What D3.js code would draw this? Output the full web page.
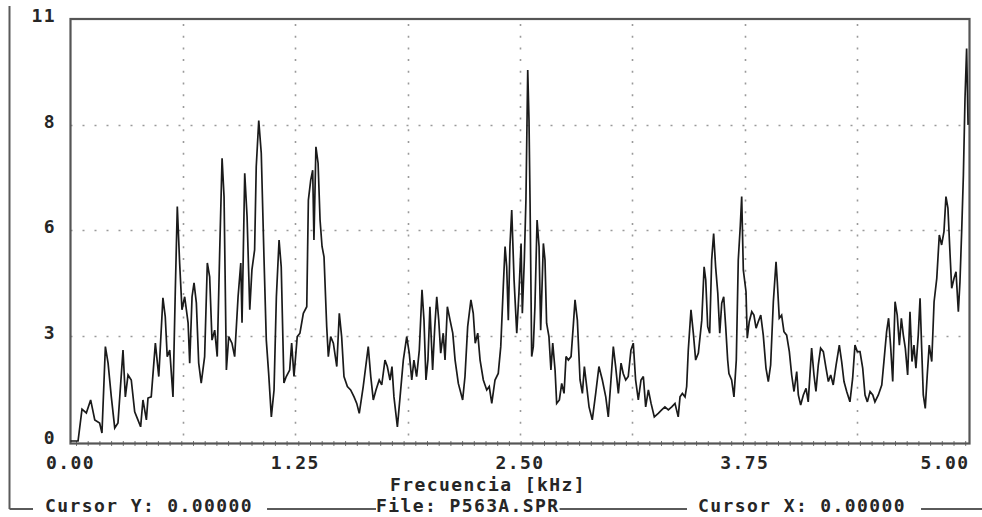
<!DOCTYPE html>
<html>
<head>
<meta charset="utf-8">
<script src="https://cdn.jsdelivr.net/npm/d3@7"></script>
<style>
  html, body { margin: 0; padding: 0; background: #fff; }
  svg { display: block; }
  text { font-family: "DejaVu Sans Mono", "Liberation Mono", monospace; font-weight: bold; fill: #262626; }
</style>
</head>
<body>
<svg id="chart" width="982" height="517"></svg>
<script>
// ---- data ----
const freq = [0, 0.042, 0.064, 0.088, 0.112, 0.135, 0.162, 0.175, 0.194, 0.209,
 0.227, 0.246, 0.264, 0.292, 0.305, 0.320, 0.338, 0.357, 0.375, 0.390,
 0.403, 0.422, 0.431, 0.449, 0.472, 0.491, 0.514, 0.527, 0.538, 0.552,
 0.570, 0.583, 0.594, 0.607, 0.620, 0.635, 0.654, 0.663, 0.676, 0.687,
 0.700, 0.713, 0.727, 0.746, 0.761, 0.774, 0.787, 0.802, 0.816, 0.830,
 0.843, 0.854, 0.867, 0.880, 0.898, 0.913, 0.932, 0.947, 0.954, 0.969,
 0.982, 0.997, 1.009, 1.024, 1.033, 1.047, 1.061, 1.076, 1.089, 1.102,
 1.117, 1.132, 1.145, 1.160, 1.172, 1.187, 1.200, 1.219, 1.230, 1.243,
 1.261, 1.276, 1.295, 1.314, 1.323, 1.336, 1.347, 1.354, 1.365, 1.377,
 1.388, 1.399, 1.410, 1.425, 1.434, 1.447, 1.462, 1.481, 1.495, 1.508,
 1.521, 1.540, 1.558, 1.577, 1.592, 1.606, 1.628, 1.656, 1.670, 1.684,
 1.699, 1.717, 1.731, 1.749, 1.762, 1.777, 1.788, 1.799, 1.818, 1.833,
 1.851, 1.870, 1.884, 1.898, 1.910, 1.925, 1.940, 1.955, 1.966, 1.977,
 1.988, 1.999, 2.014, 2.026, 2.037, 2.048, 2.059, 2.073, 2.083, 2.096,
 2.111, 2.126, 2.139, 2.157, 2.181, 2.194, 2.209, 2.227, 2.240, 2.251,
 2.265, 2.278, 2.296, 2.315, 2.329, 2.343, 2.361, 2.379, 2.393, 2.407,
 2.417, 2.426, 2.435, 2.444, 2.454, 2.467, 2.482, 2.494, 2.506, 2.513,
 2.524, 2.533, 2.543, 2.550, 2.556, 2.565, 2.574, 2.583, 2.595, 2.606,
 2.615, 2.630, 2.639, 2.648, 2.661, 2.672, 2.682, 2.695, 2.704, 2.719,
 2.732, 2.745, 2.756, 2.769, 2.784, 2.796, 2.806, 2.819, 2.834, 2.847,
 2.858, 2.871, 2.884, 2.902, 2.921, 2.939, 2.958, 2.977, 2.991, 3.006,
 3.019, 3.032, 3.047, 3.062, 3.074, 3.088, 3.102, 3.117, 3.130, 3.143,
 3.158, 3.173, 3.186, 3.199, 3.214, 3.229, 3.247, 3.269, 3.288, 3.306,
 3.325, 3.344, 3.362, 3.380, 3.390, 3.403, 3.418, 3.427, 3.436, 3.451,
 3.464, 3.477, 3.492, 3.511, 3.524, 3.533, 3.544, 3.555, 3.566, 3.577,
 3.588, 3.600, 3.611, 3.622, 3.633, 3.644, 3.655, 3.662, 3.677, 3.690,
 3.703, 3.714, 3.725, 3.733, 3.742, 3.757, 3.764, 3.775, 3.789, 3.801,
 3.813, 3.825, 3.839, 3.853, 3.868, 3.881, 3.894, 3.909, 3.924, 3.931,
 3.942, 3.955, 3.968, 3.983, 3.998, 4.011, 4.024, 4.039, 4.048, 4.061,
 4.076, 4.091, 4.103, 4.122, 4.135, 4.146, 4.159, 4.172, 4.187, 4.202,
 4.215, 4.228, 4.242, 4.258, 4.276, 4.289, 4.302, 4.317, 4.335, 4.350,
 4.363, 4.376, 4.391, 4.406, 4.419, 4.432, 4.447, 4.462, 4.474, 4.493,
 4.512, 4.524, 4.539, 4.550, 4.562, 4.573, 4.586, 4.598, 4.610, 4.621,
 4.632, 4.643, 4.656, 4.669, 4.680, 4.691, 4.702, 4.715, 4.725, 4.734,
 4.743, 4.754, 4.765, 4.776, 4.790, 4.803, 4.818, 4.832, 4.845, 4.858,
 4.869, 4.880, 4.892, 4.901, 4.914, 4.925, 4.938, 4.947, 4.957, 4.966,
 4.975, 4.984, 4.992];

const amplitude = [0, 0, 0.83, 0.73, 1.07, 0.55, 0.47, 0.21, 2.46, 2.03,
 1.15, 0.34, 0.47, 2.37, 1.15, 1.72, 1.59, 0.76, 0.55, 0.37,
 1.07, 0.55, 1.12, 1.15, 2.55, 1.68, 3.73, 3.24, 2.20, 2.37,
 1.15, 3.94, 6.11, 4.64, 3.42, 3.76, 3.08, 2.03, 3.76, 4.12,
 3.60, 2.03, 1.51, 2.20, 4.64, 4.28, 2.63, 2.89, 2.20, 4.98,
 7.37, 6.37, 1.85, 2.72, 2.55, 2.20, 3.76, 4.64, 3.08, 6.98,
 5.85, 3.42, 4.46, 4.98, 7.15, 8.35, 7.50, 4.80, 2.63, 1.77,
 0.63, 1.33, 3.76, 5.24, 4.54, 1.51, 1.68, 1.85, 2.55, 1.68,
 2.72, 2.81, 3.33, 3.50, 6.28, 6.80, 7.06, 5.24, 7.67, 7.24,
 5.76, 5.07, 4.80, 2.98, 2.20, 2.72, 2.55, 1.94, 3.33, 2.72,
 1.68, 1.42, 1.33, 1.15, 0.98, 0.72, 1.42, 2.46, 1.68, 1.07,
 1.33, 1.59, 1.46, 2.11, 1.94, 1.59, 1.94, 1.15, 0.37, 1.15,
 2.11, 2.72, 2.29, 1.59, 2.11, 1.68, 2.37, 3.94, 3.15, 1.59,
 2.11, 3.50, 1.85, 2.98, 3.76, 3.15, 2.29, 2.81, 2.11, 3.50,
 3.15, 2.81, 2.11, 1.50, 1.07, 1.68, 2.98, 3.68, 3.33, 2.55,
 2.81, 2.11, 1.59, 1.33, 1.42, 0.98, 1.59, 1.76, 2.46, 4.02,
 5.07, 4.54, 3.15, 5.07, 6.02, 4.20, 2.81, 3.85, 5.15, 3.33,
 4.72, 6.28, 9.67, 8.37, 6.20, 2.20, 2.46, 3.50, 5.76, 5.07,
 2.89, 5.15, 4.72, 3.07, 2.72, 1.85, 2.55, 1.85, 0.98, 1.07,
 1.50, 1.24, 2.20, 2.11, 2.20, 2.98, 3.68, 3.15, 1.59, 1.24,
 1.94, 1.42, 0.89, 0.55, 1.24, 1.94, 1.59, 1.15, 0.63, 1.59,
 2.46, 1.94, 1.24, 2.03, 1.76, 1.59, 1.68, 2.37, 2.55, 1.59,
 1.07, 1.59, 1.68, 0.89, 1.33, 0.98, 0.63, 0.72, 0.81, 0.89,
 0.81, 0.89, 0.98, 0.63, 1.15, 1.24, 1.15, 1.42, 2.37, 3.42,
 2.81, 2.11, 2.29, 3.15, 4.54, 4.20, 2.98, 2.81, 4.72, 5.41,
 4.54, 3.85, 2.81, 3.59, 3.76, 2.98, 2.11, 1.76, 1.59, 1.15,
 2.11, 4.72, 5.59, 6.37, 4.46, 3.89, 2.68, 3.11, 3.37, 3.28,
 2.94, 3.11, 3.28, 2.76, 1.90, 1.55, 1.98, 3.63, 4.67, 4.15,
 3.20, 3.28, 2.85, 2.76, 2.33, 1.72, 1.29, 1.81, 1.20, 0.94,
 1.20, 1.37, 1.02, 2.42, 1.72, 1.29, 1.98, 2.42, 2.33, 1.90,
 1.55, 1.72, 1.46, 1.98, 2.50, 2.07, 1.55, 1.29, 1.02, 1.63,
 2.50, 2.33, 2.33, 1.90, 1.20, 1.02, 1.29, 1.20, 1.02, 1.20,
 1.46, 2.07, 2.85, 3.20, 2.42, 1.55, 3.63, 3.28, 2.50, 3.20,
 2.76, 2.42, 1.72, 3.37, 2.07, 2.50, 1.90, 2.76, 3.72, 2.42,
 1.20, 0.85, 1.72, 2.50, 2.07, 3.63, 4.24, 5.37, 5.11, 5.46,
 6.37, 6.07, 4.85, 3.98, 4.24, 4.41, 3.37, 4.15, 5.54, 6.93,
 8.93, 10.23, 8.24];

const yTickValues = [0, 2.75, 5.5, 8.25, 11];
const yTickLabels = ["0", "3", "6", "8", "11"];
const xTickValues = [0, 1.25, 2.5, 3.75, 5];
const xTickLabels = ["0.00", "1.25", "2.50", "3.75", "5.00"];
const xGridValues = [0.625, 1.25, 1.875, 2.5, 3.125, 3.75, 4.375];
const xTitle = "Frecuencia [kHz]";
const statusTexts = ["Cursor Y: 0.00000", "File: P563A.SPR", "Cursor X: 0.00000"];

// ---- layout ----
const svg = d3.select("#chart");
const plot = { left: 70.5, right: 969.5, top: 19, bottom: 443.5 };
const x = d3.scaleLinear().domain([0, 5]).range([plot.left, plot.right]);
const y = d3.scaleLinear().domain([0, 11]).range([441, plot.top]);
const FS = 18, LS = 1.4;

// outer window frame (left edge and bottom status line)
const statusY = 509;
svg.append("line").attr("x1", 9.5).attr("x2", 9.5).attr("y1", 6).attr("y2", statusY)
  .attr("stroke", "#5a5a5a").attr("stroke-width", 2);
svg.append("line").attr("x1", 9.5).attr("x2", 982).attr("y1", statusY).attr("y2", statusY)
  .attr("stroke", "#5a5a5a").attr("stroke-width", 2);

// grid
const grid = svg.append("g");
grid.selectAll("line.h").data(yTickValues.slice(1, -1)).join("line")
  .attr("x1", plot.left).attr("x2", plot.right)
  .attr("y1", d => Math.round(y(d)) + 0.5).attr("y2", d => Math.round(y(d)) + 0.5)
  .attr("stroke", "#9a9a9a").attr("stroke-width", 1.6).attr("stroke-dasharray", "2,10");
grid.selectAll("line.v").data(xGridValues).join("line")
  .attr("x1", d => Math.round(x(d)) + 0.5).attr("x2", d => Math.round(x(d)) + 0.5)
  .attr("y1", plot.top + 5).attr("y2", plot.bottom)
  .attr("stroke", "#9a9a9a").attr("stroke-width", 1.6).attr("stroke-dasharray", "2,9.7");

// small tick dots on the bottom frame
const bottomTicks = d3.range(plot.left + 6, plot.right, 11.7);
svg.append("g").selectAll("line").data(bottomTicks).join("line")
  .attr("x1", d => d).attr("x2", d => d).attr("y1", plot.bottom - 2.5).attr("y2", plot.bottom + 2.5)
  .attr("stroke", "#777").attr("stroke-width", 1);

// frame
svg.append("rect").attr("x", plot.left).attr("y", plot.top)
  .attr("width", plot.right - plot.left).attr("height", plot.bottom - plot.top)
  .attr("fill", "none").attr("stroke", "#555").attr("stroke-width", 2.2);

// spectrum line
const pts = freq.map((f, i) => [f, amplitude[i]]);
const line = d3.line().x(d => x(d[0])).y(d => y(d[1]));
svg.append("path").datum(pts).attr("d", line)
  .attr("fill", "none").attr("stroke", "#1a1a1a").attr("stroke-width", 1.7)
  .attr("stroke-linejoin", "miter").attr("stroke-miterlimit", 3);

// y tick labels
svg.append("g").selectAll("text").data(yTickValues).join("text")
  .attr("x", 56).attr("y", d => y(d) + 3)
  .attr("text-anchor", "end").attr("font-size", FS).attr("letter-spacing", LS)
  .text((d, i) => yTickLabels[i]);

// x tick labels
svg.append("g").selectAll("text").data(xTickValues).join("text")
  .attr("x", (d, i) => i === xTickValues.length - 1 ? plot.right : x(d))
  .attr("y", 469)
  .attr("text-anchor", (d, i) => i === xTickValues.length - 1 ? "end" : "middle")
  .attr("font-size", FS).attr("letter-spacing", LS)
  .text((d, i) => xTickLabels[i]);

// x title
svg.append("text").attr("x", 488).attr("y", 491).attr("text-anchor", "middle")
  .attr("font-size", FS).attr("letter-spacing", LS).text(xTitle);

// status texts on the bottom line, with white gaps
const statusPos = [{ x: 45, padL: 12, padR: 14 }, { x: 376, padL: 0, padR: 0 }, { x: 698, padL: 11, padR: 15 }];
statusTexts.forEach((t, i) => {
  const g = svg.append("g");
  const bg = g.append("rect").attr("fill", "#fff");
  const tx = g.append("text").attr("x", statusPos[i].x).attr("y", statusY + 3)
    .attr("font-size", FS).attr("letter-spacing", LS).text(t);
  const bb = tx.node().getBBox();
  bg.attr("x", bb.x - statusPos[i].padL).attr("y", statusY - 3)
    .attr("width", bb.width + statusPos[i].padL + statusPos[i].padR).attr("height", 6);
});
</script>
</body>
</html>
